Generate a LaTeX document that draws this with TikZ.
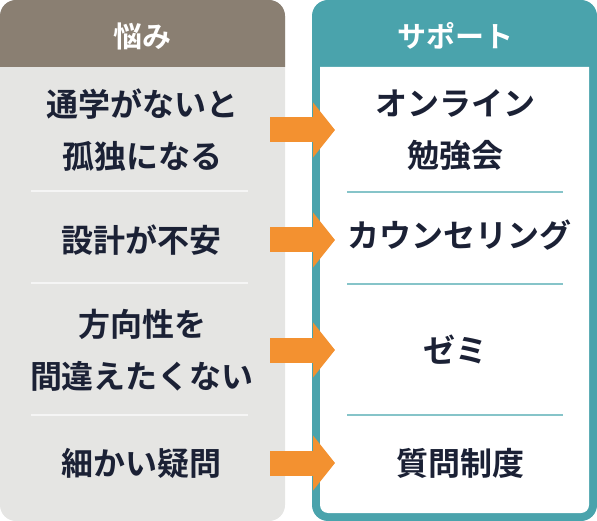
\documentclass[tikz,border=0pt]{standalone}
\usepackage{fontspec}
\usepackage{xcolor}
\usetikzlibrary{arrows.meta}
\setmainfont{Noto Sans CJK JP}[BoldFont=* Bold]
\definecolor{worry}{HTML}{8A7F72}
\definecolor{panel}{HTML}{E5E5E3}
\definecolor{teal}{HTML}{4AA3AC}
\definecolor{rule}{HTML}{86C4C9}
\definecolor{push}{HTML}{F39130}
\definecolor{ink}{HTML}{1B2135}

\begin{document}
\begin{tikzpicture}[x=1pt,y=-1pt,
    head/.style={text=white, font=\bfseries\fontsize{29}{34}\selectfont},
    item/.style={text=ink, align=center, font=\bfseries\fontsize{32}{52}\selectfont},
    flow/.style={push, line width=25pt, -{Triangle[length=22pt, width=54pt]}}]
      \useasboundingbox (0,0) rectangle (597,521);
      \fill[panel, rounded corners=16pt] (0,0) rectangle (285,521);
      \fill[worry] (0,67) [rounded corners=16pt] -- (0,0) -- (285,0) [sharp corners] -- (285,67) -- cycle;
      \fill[teal, rounded corners=16pt] (312,0) rectangle (597,521);
      \fill[white] (320,67) [rounded corners=8pt] -- (320,513) -- (589,513) [sharp corners] -- (589,67) -- cycle;
      \draw[white!96!black, line width=2pt] (31,191) -- (248,191);
      \draw[white!96!black, line width=2pt] (31,283) -- (248,283);
      \draw[white!96!black, line width=2pt] (31,415) -- (248,415);
      \draw[rule, line width=2pt] (347,192) -- (563,192);
      \draw[rule, line width=2pt] (347,284) -- (563,284);
      \draw[rule, line width=2pt] (347,415) -- (563,415);
      \node[head] (nayami) at (142,36) {悩み};
      \node[head] (support) at (455,36) {サポート};
      \node[item] (p1) at (142,130) {通学がないと\\孤独になる};
      \node[item] (p2) at (141,240) {設計が不安};
      \node[item] (p3) at (142,350) {方向性を\\間違えたくない};
      \node[item] (p4) at (141,463) {細かい疑問};
      \node[item] (s1) at (455,130) {オンライン\\勉強会};
      \node[item] (s2) at (459,235) {カウンセリング};
      \node[item] (s3) at (455,350) {ゼミ};
      \node[item] (s4) at (460,463) {質問制度};
      \coordinate (tail) at (270,0);
      \coordinate (tip) at (335,0);
      \draw[flow] (tail |- p1) -- (tip |- p1);
      \draw[flow] (tail |- p2) -- (tip |- p2);
      \draw[flow] (tail |- p3) -- (tip |- p3);
      \draw[flow] (tail |- p4) -- (tip |- p4);
    \end{tikzpicture}
\end{document}
